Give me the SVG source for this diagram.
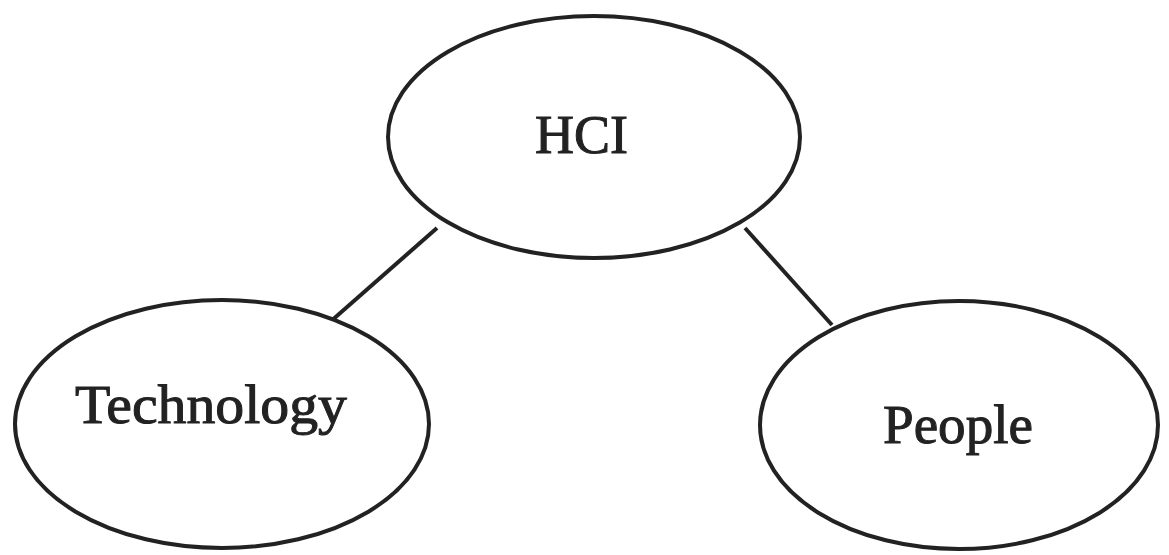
<svg xmlns="http://www.w3.org/2000/svg" width="1169" height="555" viewBox="0 0 1169 555">
<style>
.node ellipse{fill:#fff;stroke:#222;stroke-width:4}
.node text{font-family:"Liberation Serif","DejaVu Serif",serif;font-size:54px;fill:#222;stroke:#222;stroke-width:1}
.conn line{stroke:#222;stroke-width:4}
</style>
<rect width="1169" height="555" fill="#fff"/>
<g id="connectors" class="conn">
<line x1="437" y1="228" x2="330" y2="322"/>
<line x1="745" y1="228" x2="832" y2="325"/>
</g>
<g id="hci" class="node">
<ellipse cx="594" cy="137" rx="206" ry="121"/>
<text x="535" y="153">HCI</text>
</g>
<g id="technology" class="node">
<ellipse cx="222" cy="424" rx="207" ry="124"/>
<text x="75" y="423" textLength="272" lengthAdjust="spacingAndGlyphs">Technology</text>
</g>
<g id="people" class="node">
<ellipse cx="959" cy="425" rx="199" ry="124"/>
<text x="883" y="443" textLength="150" lengthAdjust="spacingAndGlyphs">People</text>
</g>
</svg>
